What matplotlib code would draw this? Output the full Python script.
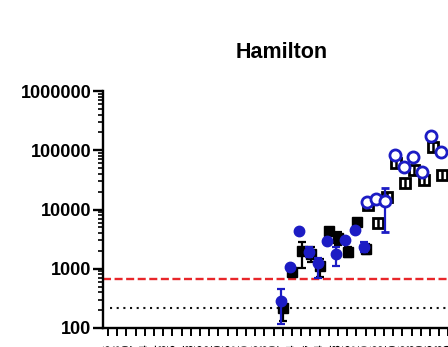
import numpy as np
import matplotlib
matplotlib.use("Agg")
import matplotlib.pyplot as plt
from matplotlib.ticker import FixedLocator, FixedFormatter, LogLocator, NullFormatter

plt.rcParams['font.family'] = ['Liberation Sans', 'DejaVu Sans']

title = "Hamilton"

# weekly sample dates (category labels, mostly cropped in the reference)
dates = ["2021-06-06", "2021-06-13", "2021-06-20", "2021-06-27", "2021-07-04",
         "2021-07-11", "2021-07-18", "2021-07-25", "2021-08-01", "2021-08-08",
         "2021-08-15", "2021-08-22", "2021-08-29", "2021-09-05", "2021-09-12",
         "2021-09-19", "2021-09-26", "2021-10-03", "2021-10-10", "2021-10-17",
         "2021-10-24", "2021-10-31", "2021-11-07", "2021-11-14", "2021-11-21",
         "2021-11-28", "2021-12-05", "2021-12-12", "2021-12-19", "2021-12-26",
         "2022-01-02", "2022-01-09", "2022-01-16", "2022-01-23", "2022-01-30",
         "2022-02-06", "2022-02-13", "2022-02-20", "2022-02-27"]

# series 1 (black, filled squares)
black_idx = [19, 20, 21, 22, 23, 24, 25, 26, 27, 28]
black_val = [215, 890, 1990, 1800, 1110, 4380, 3270, 1940, 6200, 2150]
black_lo = [130, np.nan, 1010, 1300, 715, np.nan, 2500, 1600, np.nan, 1750]
black_hi = [300, np.nan, 2850, 2300, 1450, np.nan, 4100, 2300, np.nan, 2600]

# series 2 (blue, filled circles)
blue_idx = [19, 20, 21, 22, 23, 24, 25, 26, 27, 28]
blue_val = [290, 1050, 4400, 1900, 1260, 2930, 1770, 3030, 4500, 2350]
blue_lo = [117, np.nan, np.nan, 1600, 710, np.nan, 1110, np.nan, np.nan, 1900]
blue_hi = [455, np.nan, np.nan, 2300, 1500, np.nan, 2300, np.nan, np.nan, 2800]

# series 1 (black, open squares)
black2_idx = [28, 29, 30, 31, 32, 33, 34, 35, 36]
black2_val = [11900, 6000, 16500, 60000, 27500, 46000, 31500, 115000, 38000]

# series 2 (blue, open circles)
blue2_idx = [28, 29, 30, 31, 32, 33, 34, 35, 36]
blue2_val = [13500, 15000, 14000, 83000, 52000, 78000, 43000, 174000, 92000]
blue2_lo = [np.nan, np.nan, 4200, np.nan, 47000, np.nan, np.nan, np.nan, np.nan]
blue2_hi = [np.nan, np.nan, 22700, np.nan, 57000, np.nan, np.nan, np.nan, np.nan]

red_level = 662
dot_level = 220

y_ticks = [100, 1000, 10000, 100000, 1000000]
y_labels = ["100", "1000", "10000", "100000", "1000000"]

BLUE = "#1c1cc4"
BLACK = "#000000"

fig = plt.figure(figsize=(4.48, 3.47), dpi=100)
ax = fig.add_axes([103 / 448, 1 - 328 / 347, 358 / 448, (328 - 91) / 347])
ax.set_yscale('log')
ax.set_ylim(100, 1e6)
ax.set_xlim(-0.54, 38.37)


def yerr_of(v, lo, hi):
    v = np.asarray(v, float)
    lo = np.asarray(lo, float)
    hi = np.asarray(hi, float)
    return np.vstack([np.where(np.isnan(lo), 0, v - lo), np.where(np.isnan(hi), 0, hi - v)])


ax.axhline(red_level, color="#e8262a", lw=1.7, ls=(0, (3.4, 1.5)), zorder=1)
ax.axhline(dot_level, color="#111111", lw=1.5, ls=(0, (1, 2.2)), xmin=0.02, zorder=1)

# black filled
bx = np.array(black_idx) + 0.05
ax.errorbar(bx, black_val, yerr=yerr_of(black_val, black_lo, black_hi), fmt='s', color=BLACK,
            ms=7, elinewidth=1.6, capsize=3, capthick=1.6, zorder=3)
# blue filled
ux = np.array(blue_idx) - 0.2
ax.errorbar(ux, blue_val, yerr=yerr_of(blue_val, blue_lo, blue_hi), fmt='o', color=BLUE,
            ms=7.5, elinewidth=1.6, capsize=3, capthick=1.6, zorder=4)
# black open squares with vertical bar
b2x = np.array(black2_idx) + 0.3
ax.plot(b2x, black2_val, 's', ms=7.5, mfc='white', mec=BLACK, mew=2.0, zorder=3)
ax.plot(b2x, black2_val, '|', ms=7, mec=BLACK, mew=1.8, zorder=3)
# blue open circles with cross
u2x = np.array(blue2_idx) + 0.15
ax.errorbar(u2x, blue2_val, yerr=yerr_of(blue2_val, blue2_lo, blue2_hi), fmt='o', color=BLUE,
            ms=8, mfc='white', mec=BLUE, mew=2.0, elinewidth=1.6, capsize=3, capthick=1.6, zorder=4)
ax.plot(u2x, blue2_val, '+', ms=6.5, mec=BLUE, mew=1.6, zorder=4)

for s in ['top', 'right']:
    ax.spines[s].set_visible(False)
for s in ['left', 'bottom']:
    ax.spines[s].set_linewidth(1.7)

ax.yaxis.set_major_locator(FixedLocator(y_ticks))
ax.yaxis.set_major_formatter(FixedFormatter(y_labels))
ax.yaxis.set_minor_locator(LogLocator(base=10, subs=np.arange(2, 10)))
ax.yaxis.set_minor_formatter(NullFormatter())
ax.tick_params(axis='y', which='major', length=7, width=1.7, pad=1.5, labelsize=13)
ax.tick_params(axis='y', which='minor', length=3.5, width=1.2)
for t in ax.get_yticklabels():
    t.set_fontweight('bold')

ax.set_xticks(range(len(dates)))
ax.set_xticklabels(dates, rotation=90, fontsize=8, fontweight='bold')
ax.tick_params(axis='x', which='major', length=5.5, width=1.4, pad=6)

fig.text(282 / 448, 1 - 53 / 347, title, ha='center', va='center', fontsize=15.5, fontweight='bold')

fig.savefig("out.png", dpi=100)
